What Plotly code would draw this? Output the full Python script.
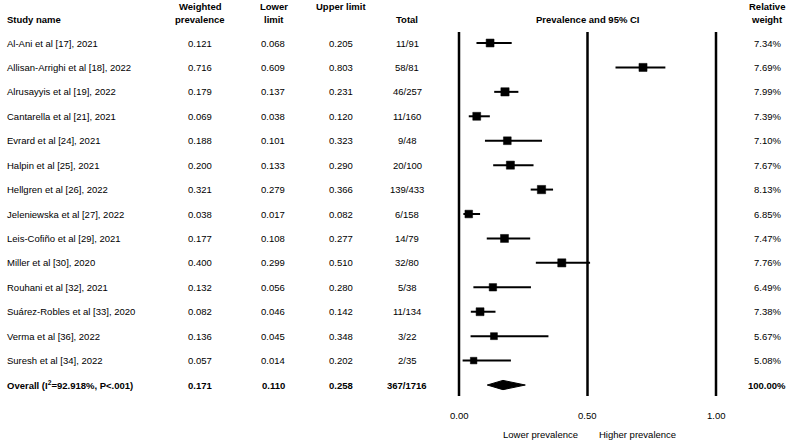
import plotly.graph_objects as go
import numpy as np

studies = ["Al-Ani et al [17], 2021", "Allisan-Arrighi et al [18], 2022", "Alrusayyis et al [19], 2022",
           "Cantarella et al [21], 2021", "Evrard et al [24], 2021", "Halpin et al [25], 2021",
           "Hellgren et al [26], 2022", "Jeleniewska et al [27], 2022", "Leis-Cofiño et al [29], 2021",
           "Miller et al [30], 2020", "Rouhani et al [32], 2021", "Suárez-Robles et al [33], 2020",
           "Verma et al [36], 2022", "Suresh et al [34], 2022"]
prevalence = [0.121, 0.716, 0.179, 0.069, 0.188, 0.200, 0.321, 0.038, 0.177, 0.400, 0.132, 0.082, 0.136, 0.057]
lower = [0.068, 0.609, 0.137, 0.038, 0.101, 0.133, 0.279, 0.017, 0.108, 0.299, 0.056, 0.046, 0.045, 0.014]
upper = [0.205, 0.803, 0.231, 0.120, 0.323, 0.290, 0.366, 0.082, 0.277, 0.510, 0.280, 0.142, 0.348, 0.202]
totals = ["11/91", "58/81", "46/257", "11/160", "9/48", "20/100", "139/433", "6/158", "14/79",
          "32/80", "5/38", "11/134", "3/22", "2/35"]
weights = [7.34, 7.69, 7.99, 7.39, 7.10, 7.67, 8.13, 6.85, 7.47, 7.76, 6.49, 7.38, 5.67, 5.08]

overall_label = "Overall (I<sup>2</sup>=92.918%, P<.001)"
overall_prev = 0.171
overall_lower = 0.110
overall_upper = 0.258
overall_total = "367/1716"
overall_weight = 100.00

tick_vals = [0.0, 0.5, 1.0]
tick_text = ["0.00", "0.50", "1.00"]

W, H = 788, 441
FONT = "Liberation Sans, Arial, sans-serif"
FS = 9.5

# pixel geometry helpers (x axis: data 0..1 mapped to forest area)
px0, px1 = 459, 716
scale = px1 - px0
xr = [-px0 / scale, (W - px0) / scale]
row0, rowstep = 43, 24.43
yr = [(H - row0) / rowstep, -row0 / rowstep]

def xp(px):
    return px / W

n = len(studies)
rows = list(range(n))

fig = go.Figure()

# CI lines
for i in rows:
    fig.add_trace(go.Scatter(x=[lower[i], upper[i]], y=[i, i], mode="lines",
                             line=dict(color="black", width=2), showlegend=False, hoverinfo="skip"))
# squares
sizes = [8 * np.sqrt(w / 7.5) for w in weights]
fig.add_trace(go.Scatter(x=prevalence, y=rows, mode="markers", opacity=1,
                         marker=dict(symbol="square", size=sizes, color="#000000", opacity=1,
                                     line=dict(width=0.5, color="#000000")),
                         showlegend=False, hoverinfo="skip"))
# diamond
fig.add_trace(go.Scatter(x=[overall_lower, overall_prev, overall_upper, overall_prev, overall_lower],
                         y=[n, n - 0.19, n, n + 0.19, n], mode="lines", fill="toself",
                         fillcolor="black", line=dict(color="black", width=1),
                         showlegend=False, hoverinfo="skip"))

# vertical reference lines
for v in tick_vals:
    fig.add_shape(type="line", xref="x", yref="y", x0=v, x1=v,
                  y0=(32 - row0) / rowstep, y1=(396 - row0) / rowstep,
                  line=dict(color="black", width=2.5))

ann = []
def txt(x, y, s, align="center", bold=False, xref="paper", yref="y"):
    if bold:
        s = "<b>" + s + "</b>"
    ann.append(dict(x=x, y=y, xref=xref, yref=yref, text=s, showarrow=False,
                    xanchor={"left": "left", "center": "center", "right": "right"}[align],
                    yanchor="middle", font=dict(family=FONT, size=FS, color="black")))

# header (pixel rows)
h1 = (6 - row0) / rowstep
h2 = (19 - row0) / rowstep
txt(xp(5), h2, "Study name", "left", True)
txt(xp(200), h1, "Weighted", bold=True)
txt(xp(200), h2, "prevalence", bold=True)
txt(xp(274), h1, "Lower", bold=True)
txt(xp(274), h2, "limit", bold=True)
txt(xp(341), h1, "Upper limit", bold=True)
txt(xp(407), h2, "Total", bold=True)
txt(xp(588), h2, "Prevalence and 95% CI", bold=True)
txt(xp(767), h1, "Relative", bold=True)
txt(xp(767), h2, "weight", bold=True)

for i in rows:
    txt(xp(5), i, studies[i], "left")
    txt(xp(200), i, f"{prevalence[i]:.3f}")
    txt(xp(273), i, f"{lower[i]:.3f}")
    txt(xp(341), i, f"{upper[i]:.3f}")
    txt(xp(407), i, totals[i])
    txt(xp(767), i, f"{weights[i]:.2f}%")

txt(xp(5), n, overall_label, "left", True)
txt(xp(200), n, f"{overall_prev:.3f}", bold=True)
txt(xp(273), n, f"{overall_lower:.3f}", bold=True)
txt(xp(341), n, f"{overall_upper:.3f}", bold=True)
txt(xp(407), n, overall_total, bold=True)
txt(xp(767), n, f"{overall_weight:.2f}%", bold=True)

# tick labels
ty = (415 - row0) / rowstep
for v, t in zip(tick_vals, tick_text):
    txt(v, ty, t, xref="x")
ly = (434 - row0) / rowstep
txt(xp(580), ly, "Lower prevalence", "right")
txt(xp(597), ly, "Higher prevalence", "left")

fig.update_layout(
    width=W, height=H, margin=dict(l=0, r=0, t=0, b=0, pad=0),
    paper_bgcolor="white", plot_bgcolor="white",
    xaxis=dict(range=xr, visible=False, fixedrange=True),
    yaxis=dict(range=yr, visible=False, fixedrange=True),
    annotations=ann, showlegend=False,
)
fig.write_html("out.html", config={"displayModeBar": False},
               post_script="document.body.style.margin='0';document.body.style.overflow='hidden';")
